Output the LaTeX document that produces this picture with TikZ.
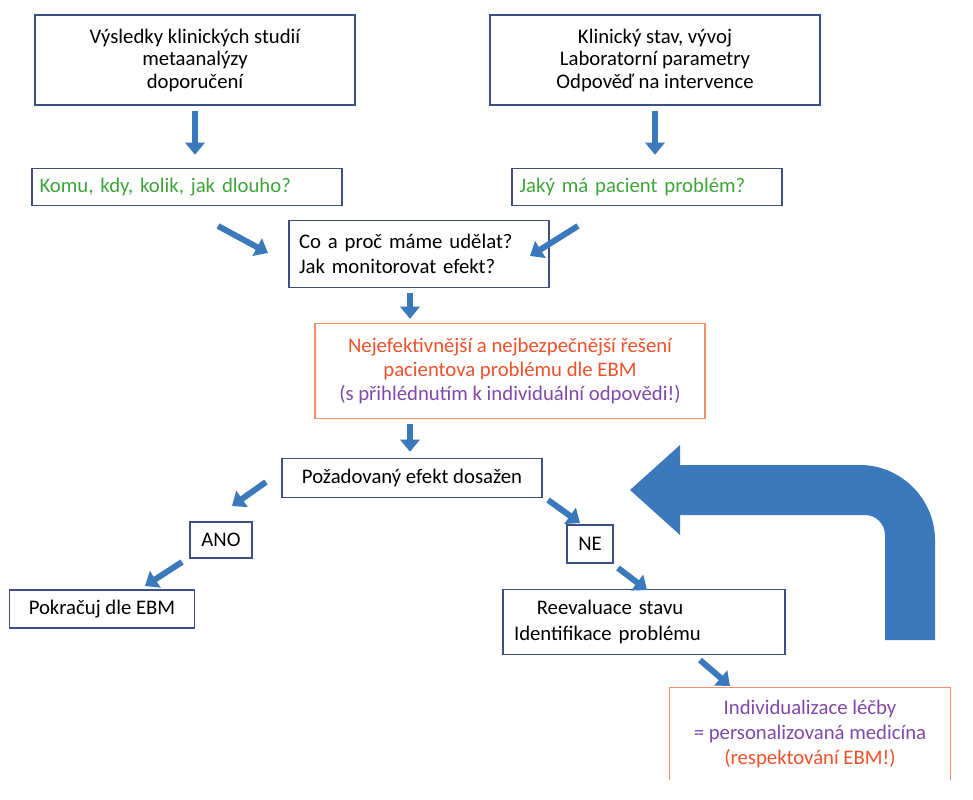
\documentclass[tikz,border=0pt]{standalone}
\usepackage{fontspec}
\setmainfont{Carlito}
\usetikzlibrary{positioning,arrows.meta}
\definecolor{boxblue}{HTML}{3F4F86}
\definecolor{arrblue}{HTML}{3B78BC}
\definecolor{txtgreen}{HTML}{3FA33A}
\definecolor{txtred}{HTML}{F0502A}
\definecolor{txtpurple}{HTML}{8048A8}
\definecolor{boxorange}{HTML}{F3906A}
\tikzset{dbox/.style={draw=boxblue, line width=0.8pt, inner sep=0pt, font=\fontsize{11.8}{12.8}\selectfont}}
\tikzset{obox/.style={dbox, draw=boxorange}}
\tikzset{barr/.style={draw=arrblue, line width=3.4pt, -{Triangle[width=11pt,length=7pt]}}}
\begin{document}
\begin{tikzpicture}[x=0.02cm, y=-0.02cm]
            \useasboundingbox (0,0) rectangle (973,800);
            \node[dbox, minimum width=6.4cm, minimum height=1.8cm, align=center] (studie) at (195,60)
                {Výsledky klinických studií\\metaanalýzy\\doporučení};
            \node[dbox, minimum width=6.6cm, minimum height=1.8cm, align=center] (stav) at (655,60)
                {Klinický stav, vývoj\\Laboratorní parametry\\Odpověď na intervence};
            \node[dbox, minimum width=6.2cm, minimum height=0.74cm, text=txtgreen, text width=5.9cm, align=left] (komu) at (187,187)
                {Komu, kdy, kolik, jak dlouho?};
            \node[dbox, minimum width=5.4cm, minimum height=0.74cm, text=txtgreen, text width=5.1cm, align=left] (problem) at (647,187)
                {Jaký má pacient problém?};
            \node[dbox, minimum width=5.2cm, minimum height=1.34cm, text width=4.8cm, align=left, font=\fontsize{11.8}{14.5}\selectfont] (co) at (419,254)
                {Co a proč máme udělat?\\Jak monitorovat efekt?};
            \node[obox, minimum width=7.8cm, minimum height=1.9cm, align=center, font=\fontsize{11.8}{13.4}\selectfont] (reseni) at (510,371)
                {\color{txtred}Nejefektivnější a nejbezpečnější řešení\\\color{txtred}pacientova problému dle EBM\\\color{txtpurple}(s přihlédnutím k individuální odpovědi!)};
            \node[dbox, minimum width=5.2cm, minimum height=0.78cm] (efekt) at (412,478)
                {Požadovaný efekt dosažen};
            \node[dbox, minimum width=1.24cm, minimum height=0.72cm] (ano) at (221,540) {ANO};
            \node[dbox, minimum width=3.7cm, minimum height=0.76cm] (pokracuj) at (102,609) {Pokračuj dle EBM};
            \node[dbox, minimum width=0.92cm, minimum height=0.76cm] (ne) at (590,544) {NE};
            \node[dbox, minimum width=5.64cm, minimum height=1.3cm, text width=5.2cm, align=left, font=\fontsize{11.8}{14.5}\selectfont] (reeval) at (644,622)
                {\hspace{1.1em}Reevaluace stavu\\Identifikace problému};
            \node[minimum width=5.6cm, minimum height=1.84cm, inner sep=0pt, align=center, font=\fontsize{11.8}{14}\selectfont] (indiv) at (810,734)
                {\color{txtpurple}Individualizace léčby\\\color{txtpurple}= personalizovaná medicína\\\color{txtred}(respektování EBM!)};
            % open box at the bottom edge
            \draw[boxorange, line width=0.8pt] (indiv.south west) -- (indiv.north west) -- (indiv.north east) -- (indiv.south east);
            % arrow ends
            \coordinate (k1) at (218,226);  \coordinate (k2) at (268,253);
            \coordinate (p1) at (578,226);  \coordinate (p2) at (530,256);
            \coordinate (e1) at (266,482);  \coordinate (e2) at (232,506);
            \coordinate (a1) at (182,562);  \coordinate (a2) at (145,586);
            \coordinate (n1) at (548,500);  \coordinate (n2) at (580,523);
            \coordinate (n3) at (618,568);  \coordinate (n4) at (647,590);
            \coordinate (r1) at (700,660);  \coordinate (r2) at (730,686);
            % small arrows
            \draw[barr] ([yshift=-0.1cm]studie.south) -- ([yshift=0.26cm]komu.north -| studie.south);
            \draw[barr] ([yshift=-0.1cm]stav.south) -- ([yshift=0.26cm]problem.north -| stav.south);
            \draw[barr] (k1) -- (k2);
            \draw[barr] (p1) -- (p2);
            \draw[barr] ([yshift=-0.1cm]co.south -| 410,0) -- ([yshift=0.08cm]reseni.north -| 410,0);
            \draw[barr] ([yshift=-0.1cm]reseni.south -| 410,0) -- ([yshift=0.12cm]efekt.north -| 410,0);
            \draw[barr] (e1) -- (e2);
            \draw[barr] (a1) -- (a2);
            \draw[barr] (n1) -- (n2);
            \draw[barr] (n3) -- (n4);
            \draw[barr] (r1) -- (r2);
            % big return arrow
            \fill[arrblue] (885,640) -- (885,535) .. controls (885,524) and (876,515) .. (865,515) -- (680,515)
                -- (680,535) -- (630,490) -- (680,445) -- (680,465) -- (860,465)
                .. controls (901,465) and (935,499) .. (935,540) -- (935,640) -- cycle;
\end{tikzpicture}
\end{document}
